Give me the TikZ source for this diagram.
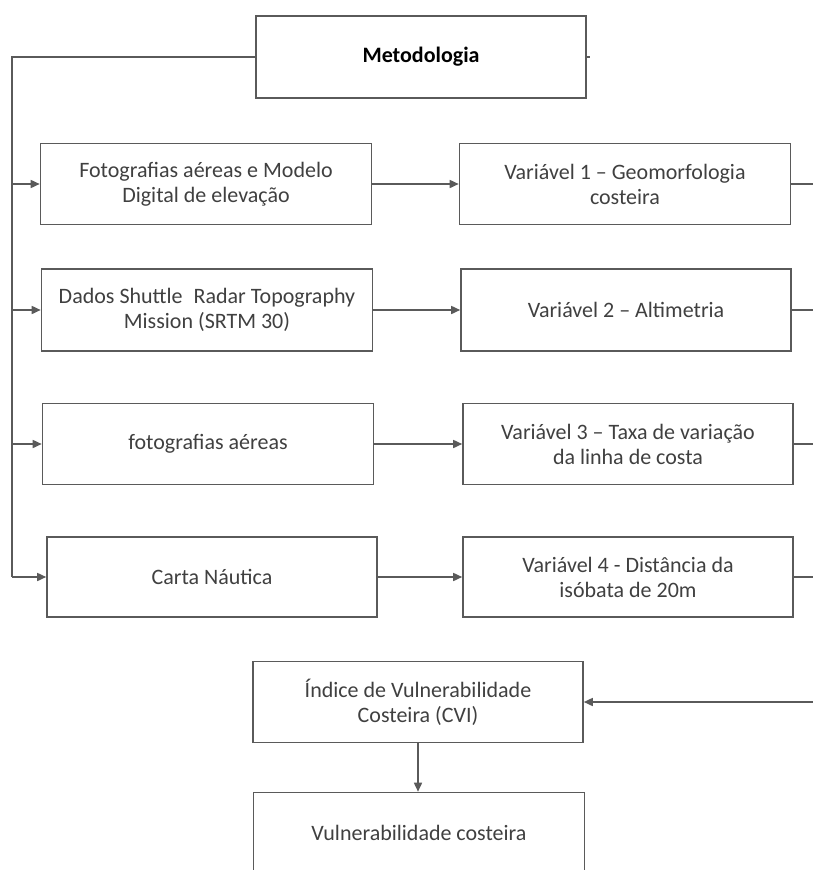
\documentclass[tikz,border=0pt]{standalone}
\usepackage{fontspec}
\setmainfont{Carlito}
\usepackage{tikz}
\usetikzlibrary{arrows.meta,positioning,calc}
\definecolor{ink}{RGB}{64,64,64}
\definecolor{wire}{RGB}{90,90,90}
\tikzset{
  box/.style={draw=wire,line width=1.6pt,fill=white,align=center,text=ink,font=\fontsize{22}{25}\selectfont,minimum width=331pt,minimum height=81pt,inner sep=2pt},
  head/.style={box,text=black,font=\fontsize{22}{25}\selectfont\bfseries},
  wire/.style={draw=wire,line width=1.6pt},
  arr/.style={wire,-{Triangle[length=9pt,width=8pt]}},
}
\begin{document}
\begin{tikzpicture}[x=1pt,y=-1pt]
  \clip (0,0) rectangle (813,870);
  \fill[white] (0,0) rectangle (813,870);
  % top
  \node[head,minimum width=330pt,minimum height=82pt] (meto) at (421,57) {Metodologia};
  % data sources
  \node[box] (f1) at (206,184) {Fotografias aéreas e Modelo\\Digital de elevação};
  \node[box,minimum height=82pt] (f2) at (207,310) {Dados Shuttle\enspace Radar Topography\\Mission (SRTM 30)};
  \node[box] (f3) at (208,444) {fotografias aéreas};
  \node[box,minimum width=330pt,minimum height=80pt] (f4) at (212,577) {Carta Náutica};
  % variables
  \node[box] (v1) at (625,184) {Variável 1 -- Geomorfologia\\costeira};
  \node[box,minimum width=330pt,minimum height=82pt] (v2) at (626,310) {Variável 2 -- Altimetria};
  \node[box,minimum width=330pt] (v3) at (628,444) {Variável 3 -- Taxa de variação\\da linha de costa};
  \node[box,minimum width=330pt,minimum height=80pt] (v4) at (628,577) {Variável 4 - Distância da\\isóbata de 20m};
  % index and result
  \node[box,minimum width=330pt] (cvi) at (418,702) {Índice de Vulnerabilidade\\Costeira (CVI)};
  \node[box] (vul) at (419,833) {Vulnerabilidade costeira};
  % trunk on the left, bus on the right (cut off by the frame)
  \coordinate (trunk) at (12,0);
  \coordinate (bus) at (830,0);
  \draw[wire] (meto.west) -- (trunk |- meto.west) -- (trunk |- f4.west);
  \draw[wire] (meto.east) -- ++(3,0);
  \foreach \i in {1,2,3,4}{
    \draw[arr] (trunk |- f\i.west) -- (f\i.west);
    \draw[arr] (f\i.east) -- (f\i.east -| v\i.west);
    \draw[wire] (v\i.east) -- (bus |- v\i.east);}
  \draw[arr] (bus |- cvi.east) -- (cvi.east);
  \draw[arr] (cvi.south) -- (cvi.south |- vul.north);
\end{tikzpicture}
\end{document}
